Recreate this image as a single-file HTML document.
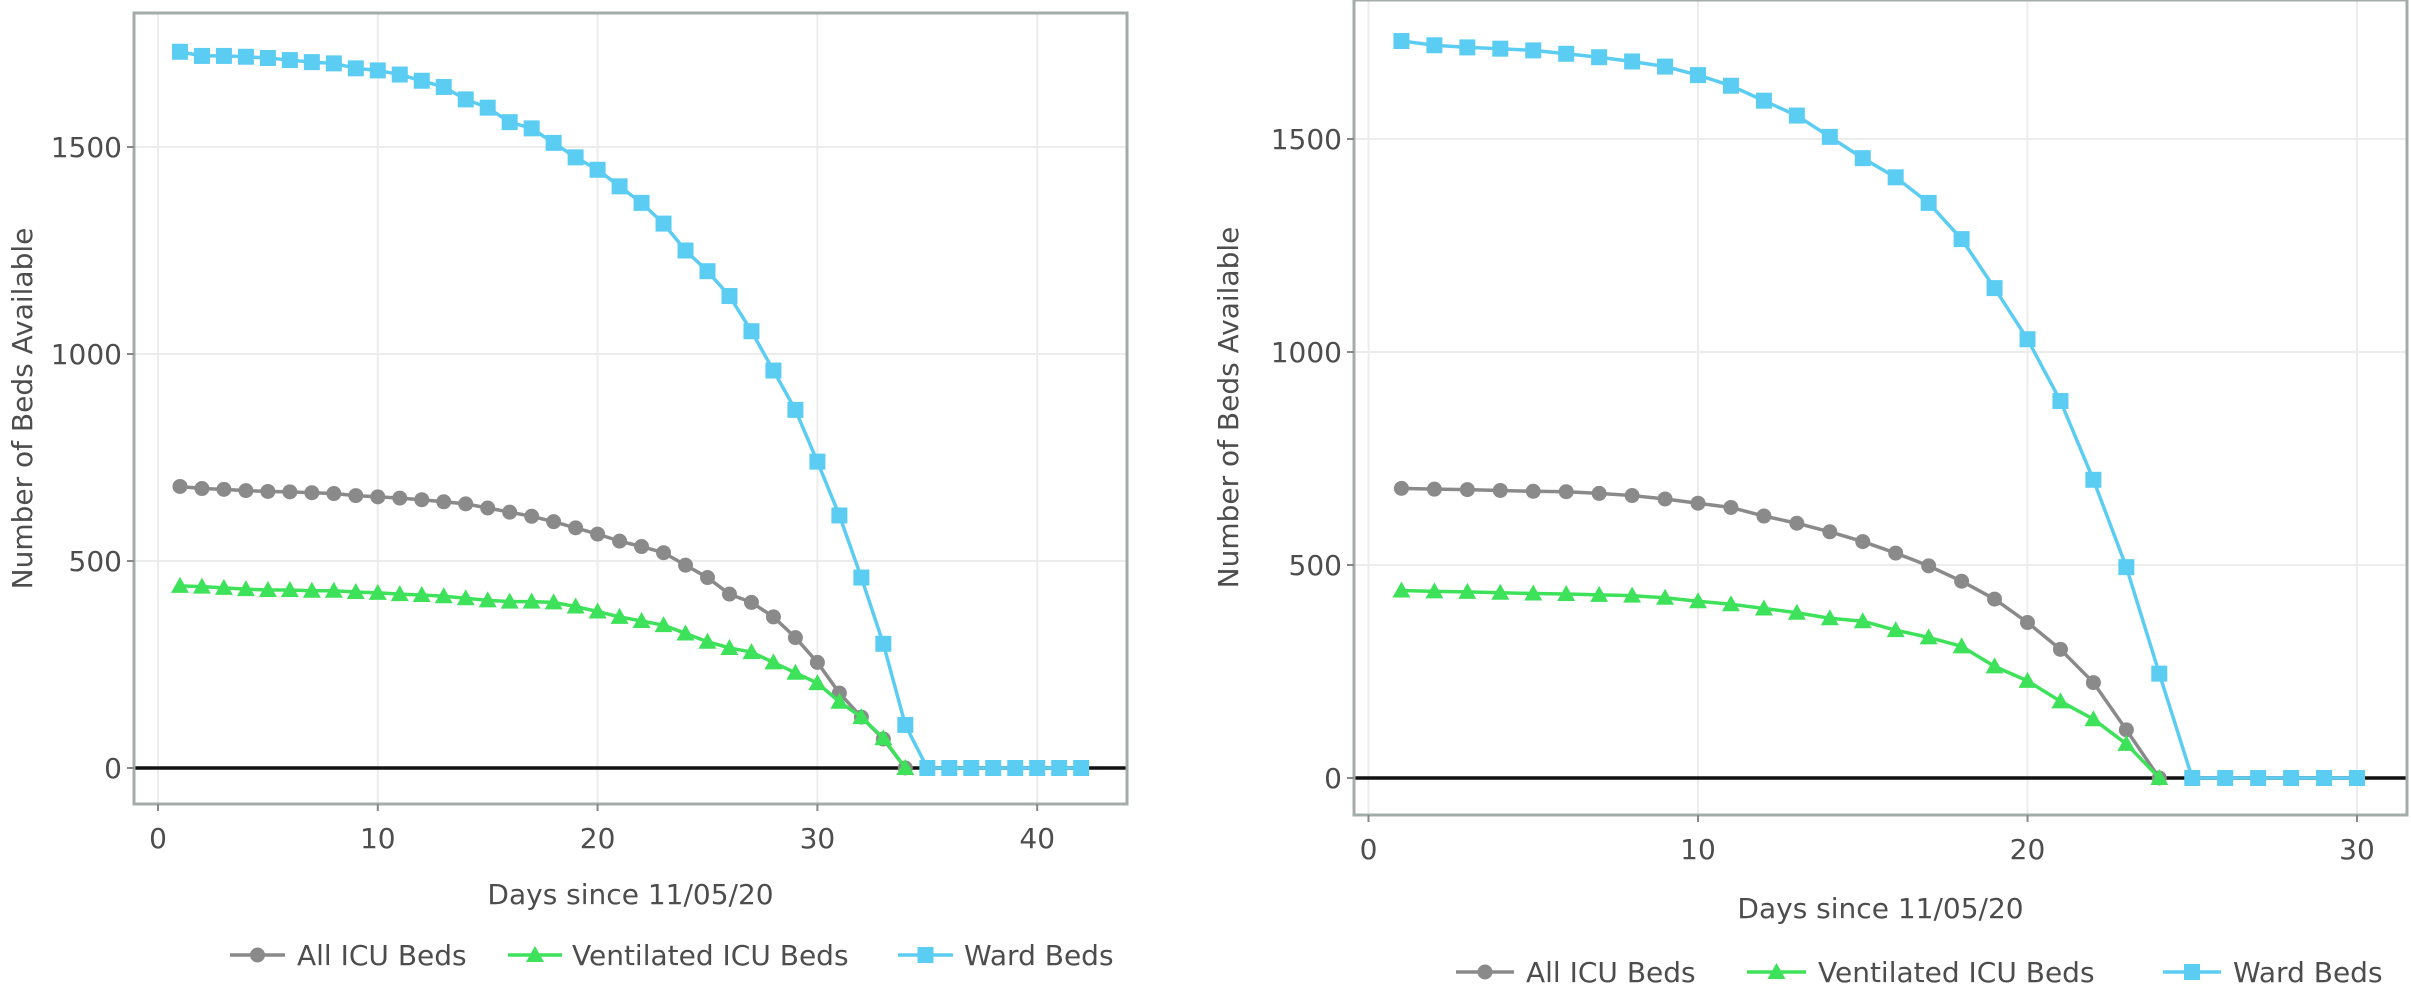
<!DOCTYPE html>
<html><head><meta charset="utf-8">
<style>
html,body{margin:0;padding:0;background:#fff;}
svg{display:block;font-family:"DejaVu Sans","Liberation Sans",sans-serif;}
</style></head>
<body>
<svg id="c" width="2411" height="1005" viewBox="0 0 2411 1005"></svg>
<script>
const leftDays = Array.from({length:42},(_, i)=>i+1);
const leftWard = [1730,1720,1720,1718,1715,1710,1705,1702,1690,1685,1675,1660,1645,1615,1595,1560,1545,1510,1475,1445,1405,1365,1315,1250,1200,1140,1055,960,865,740,610,460,300,104,0,0,0,0,0,0,0,0];
const leftIcu = [680,675,673,670,668,667,665,663,658,655,652,648,643,638,628,618,608,595,580,565,548,535,520,490,460,420,400,365,315,255,181,123,70,0];
const leftVent = [440,438,435,432,430,430,428,428,425,423,420,418,415,410,405,402,402,400,390,378,365,355,345,325,305,290,280,255,230,205,160,123,72,0];
const rightDays = Array.from({length:30},(_, i)=>i+1);
const rightWard = [1730,1720,1715,1712,1708,1700,1692,1682,1670,1650,1625,1590,1555,1505,1455,1410,1350,1265,1150,1030,885,700,495,245,0,0,0,0,0,0];
const rightIcu = [680,678,677,675,673,672,668,663,655,645,635,615,598,578,555,528,498,462,420,365,302,224,113,0];
const rightVent = [440,438,437,435,433,432,430,428,423,415,408,398,388,375,368,347,330,309,262,228,180,138,80,0];
const yTicks = [0,500,1000,1500];
const seriesNames = ["All ICU Beds","Ventilated ICU Beds","Ward Beds"];
const leftXTicks = [0,10,20,30,40];
const rightXTicks = [0,10,20,30];

const NS="http://www.w3.org/2000/svg";
const svg=document.getElementById('c');
function mk(tag,attrs,parent){const e=document.createElementNS(NS,tag);for(const k in attrs)e.setAttribute(k,attrs[k]);(parent||svg).appendChild(e);return e;}
const GRAY="#8a8a8a",GREEN="#3ee25a",CYAN="#5ccdf2";

function marker(g,type,x,y,color){
  let e;
  if(type==='circle'){e=mk('circle',{cx:x,cy:y,r:7.5,fill:color},g);}
  else if(type==='square'){e=mk('rect',{x:x-8,y:y-8,width:16,height:16,fill:color},g);}
  else {e=mk('polygon',{points:`${x},${y-9} ${x-9},${y+7} ${x+9},${y+7}`,fill:color},g);}
  return e;
}

function chart(cfg){
  const {id,L,R,T,B,x0,xs,y0,ys,xTicks,days,icu,vent,ward,ylabX,xlabY,legY,legX}=cfg;
  const X=d=>x0+d*xs, Y=v=>y0-v*ys;
  const g=mk('g',{});
  
  
  // grid
  const grid=mk('g',{},g);
  
  
  yTicks.forEach(v=>{mk('line',{x1:L,x2:R,y1:Y(v),y2:Y(v),stroke:'#ececec','stroke-width':2},grid);});
  xTicks.forEach(v=>{mk('line',{x1:X(v),x2:X(v),y1:T,y2:B,stroke:'#ececec','stroke-width':2},grid);});
  // zero line
  const zl=mk('line',{x1:L,x2:R,y1:Y(0),y2:Y(0),stroke:'#111','stroke-width':3.5},g);
  
  
  // series
  const series=[[icu,GRAY,'circle','all-icu-beds'],[vent,GREEN,'tri','ventilated-icu-beds'],[ward,CYAN,'square','ward-beds']];
  series.forEach(([vals,col,mt,nm])=>{
    const sg=mk('g',{},g);
    
    
    const pts=vals.map((v,i)=>X(days[i])+','+Y(v)).join(' ');
    mk('polyline',{points:pts,fill:'none',stroke:col,'stroke-width':3.5,'stroke-linejoin':'round'},sg);
    vals.forEach((v,i)=>{const m=marker(sg,mt,X(days[i]),Y(v),col);
      
      });
  });
  // panel border
  const pb=mk('rect',{x:L,y:T,width:R-L,height:B-T,fill:'none',stroke:'#a4acab','stroke-width':3},g);
  
  
  // y ticks
  const ya=mk('g',{},g);
  
  
  yTicks.forEach(v=>{
    mk('line',{x1:L-7,x2:L,y1:Y(v),y2:Y(v),stroke:'#888','stroke-width':2},ya);
    const t=mk('text',{x:L-12,y:Y(v)+10,'text-anchor':'end','font-size':28,fill:'#4d4d4d'},ya);t.textContent=v;
  });
  const xa=mk('g',{},g);
  
  
  xTicks.forEach(v=>{
    mk('line',{x1:X(v),x2:X(v),y1:B,y2:B+7,stroke:'#888','stroke-width':2},xa);
    const t=mk('text',{x:X(v),y:B+44,'text-anchor':'middle','font-size':28,fill:'#4d4d4d'},xa);t.textContent=v;
  });
  const yt=mk('text',{x:ylabX,y:(T+B)/2,'text-anchor':'middle','font-size':28,fill:'#4d4d4d',transform:`rotate(-90 ${ylabX} ${(T+B)/2})`},g);
  yt.textContent='Number of Beds Available';
  
  
  const xt=mk('text',{x:(L+R)/2,y:xlabY,'text-anchor':'middle','font-size':28,fill:'#4d4d4d'},g);
  xt.textContent='Days since 11/05/20';
  
  
  // legend
  const lg=mk('g',{},g);
  
  
  const cols=[GRAY,GREEN,CYAN],mts=['circle','tri','square'];
  legX.forEach((lx,i)=>{
    const eg=mk('g',{},lg);
    
    
    mk('line',{x1:lx[0],x2:lx[1],y1:legY,y2:legY,stroke:cols[i],'stroke-width':3.5},eg);
    marker(eg,mts[i],(lx[0]+lx[1])/2,legY,cols[i]);
    const t=mk('text',{x:lx[2],y:legY+10,'font-size':28,fill:'#4d4d4d'},eg);t.textContent=seriesNames[i];
  });
}

chart({id:'left',L:134,R:1127,T:13,B:804,x0:158,xs:21.98,y0:768,ys:207/500,xTicks:leftXTicks,
  days:leftDays,icu:leftIcu,vent:leftVent,ward:leftWard,ylabX:32,xlabY:904,legY:955,
  legX:[[230,285,297],[508,562,572],[898,953,964]]});
chart({id:'right',L:1354,R:2407,T:0,B:815,x0:1368.5,xs:32.95,y0:778,ys:213/500,xTicks:rightXTicks,
  days:rightDays,icu:rightIcu,vent:rightVent,ward:rightWard,ylabX:1238,xlabY:918,legY:972,
  legX:[[1456,1514,1526],[1747,1806,1818],[2163,2221,2233]]});
</script>
</body></html>
